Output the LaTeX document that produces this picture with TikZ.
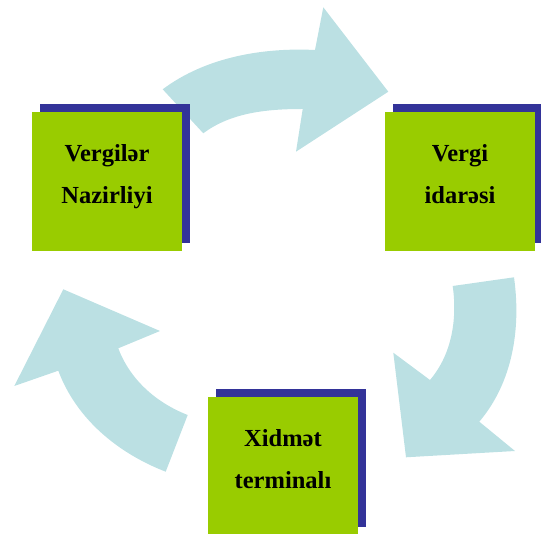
\documentclass[tikz,border=0pt]{standalone}
\usepackage{fontspec}
\setmainfont{Liberation Serif}
\usepackage{tikz}
\usetikzlibrary{
    shadows
}
\definecolor{stagegreen}{RGB}{153,204,0}
\definecolor{stageshadow}{RGB}{51,51,153}
\definecolor{flowblue}{RGB}{187,224,227}
\tikzset{
    stage/.style = {
        rectangle,
        fill=stagegreen,
        minimum width=150pt,
        minimum height=138.7pt,
        align=center,
        font=\fontsize{24.5}{41.6}\selectfont\bfseries,
        text height=57pt,
        text depth=13pt,
        general shadow={fill=stageshadow, shadow xshift=8pt, shadow yshift=8pt}
    },
    flow/.style = {
        fill=flowblue
    }
}
\begin{document}
\begin{tikzpicture}[x=1pt, y=-1pt]
\useasboundingbox (0,0) rectangle (541,534);
% curved block arrows
\fill[flow] (162.7,89.3) .. controls (206.7,56.3) and (265,47.5) .. (315,50)
    -- (323.3,7.3) -- (388.3,91.7) -- (296,151.7) -- (302.7,109)
    .. controls (267.7,109) and (231.3,112.3) .. (203.3,133.3) -- cycle;
\fill[flow] (452.7,286) -- (514,277.3)
    .. controls (521.2,328.5) and (512.7,382.3) .. (479.3,421.7)
    -- (515,451) -- (406,457.3) -- (393.3,352.7) -- (430,380)
    .. controls (451.8,354.3) and (457.4,319.4) .. (452.7,286) -- cycle;
\fill[flow] (187.7,415) -- (165.7,471.7)
    .. controls (117.7,453.1) and (76.3,418.9) .. (58.3,370.7)
    -- (14.3,386) -- (63.3,289.3) -- (160,331) -- (118.3,348.3)
    .. controls (130.1,379.8) and (156.4,402.8) .. (187.7,415) -- cycle;
% stages
\node[stage] (nazirlik) at (107,181.35) {Vergilər\\Nazirliyi};
\node[stage] (idare) at (460,181.35) {Vergi\\idarəsi};
\node[stage] (terminal) at (283,466) {Xidmət\\terminalı};
\end{tikzpicture}
\end{document}
